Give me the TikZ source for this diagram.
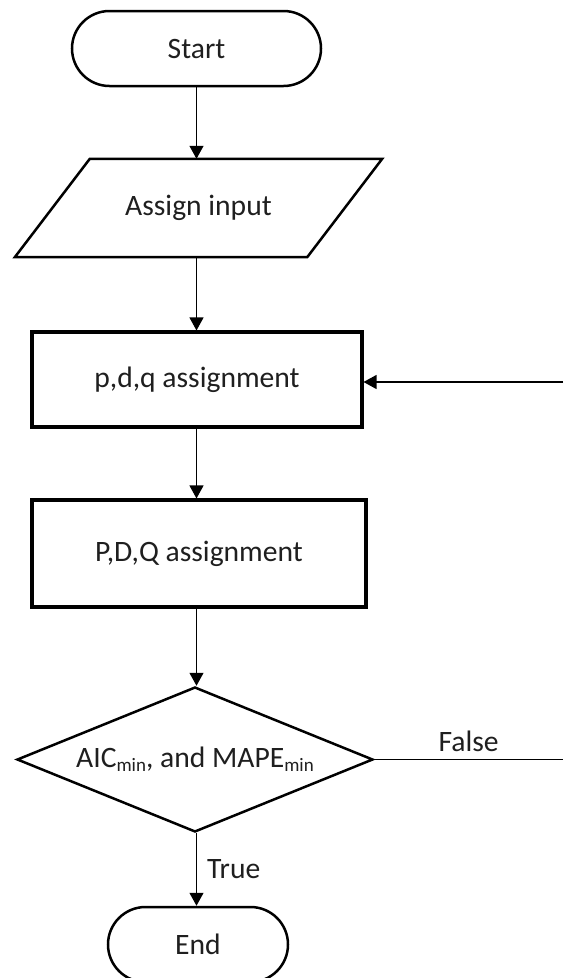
\documentclass[tikz,border=0pt]{standalone}
\usepackage{fontspec}
\setmainfont{Carlito}
\usetikzlibrary{arrows.meta,shapes.geometric}

% small lowered index text
\newcommand{\lowidx}[1]{\raisebox{-0.14em}{\fontsize{19}{20}\selectfont #1}}

\tikzset{
  every node/.style={font=\fontsize{29.6}{34}\selectfont, text=black!88},
  term/.style={draw, line width=2.5pt, rectangle, rounded corners=37.5pt,
               minimum height=75pt, inner sep=0pt},
  procbox/.style={draw, line width=3.1pt, rectangle, inner sep=0pt},
  ioframe/.style={rectangle, inner sep=0pt, minimum width=367pt, minimum height=98pt},
  decision/.style={draw, line width=2.5pt, diamond, aspect=2.455, inner sep=0pt,
                   minimum width=356pt, minimum height=145pt},
  flow/.style={line width=1.2pt, -{Triangle[length=13pt,width=14pt]}},
  plain/.style={line width=1.2pt},
  lbl/.style={inner sep=0pt}
}

\begin{document}
\begin{tikzpicture}[x=1pt, y=-1pt]
  \useasboundingbox (0,0) rectangle (563,978);
  \clip (0,0) rectangle (563,978);

  % flowchart blocks
  \node[term, minimum width=249pt] (start) at (196.5,48.5) {Start};
  \node[ioframe] (input) at (198.5,208) {Assign input};
  \draw[line width=2.5pt, line join=miter]
    (input.south west) -- ([xshift=-75pt]input.south east) --
    (input.north east) -- ([xshift=75pt]input.north west) -- cycle;
  \node[procbox, minimum width=330pt, minimum height=95pt] (pdq) at (197,379.5) {p,d,q assignment};
  \node[procbox, minimum width=334pt, minimum height=107pt] (PDQ) at (199,553.5) {P,D,Q assignment};
  \node[decision] (crit) at (195,759.5) {AIC\lowidx{min}, and MAPE\lowidx{min}};
  \node[term, minimum width=180pt] (stop) at (198,944.5) {End};

  % loose ends of the loop back to p,d,q
  \coordinate (loopin) at (563,382);
  \coordinate (loopout) at (563,759.5);

  % connectors
  \draw[flow] (start.south) -- (start.south |- input.north);
  \draw[flow] (input.south -| start.south) -- (pdq.north -| start.south);
  \draw[flow] (pdq.south -| start.south) -- (PDQ.north -| start.south);
  \draw[flow] (PDQ.south -| start.south) -- (crit.north -| start.south);
  \draw[flow] (crit.south -| start.south) -- node[lbl, right=10pt] {True} (stop.north -| start.south);
  \draw[plain] (crit.east) -- node[lbl, above=7pt] {False} (loopout);
  \draw[flow] (loopin) -- (loopin -| pdq.east);
\end{tikzpicture}
\end{document}
